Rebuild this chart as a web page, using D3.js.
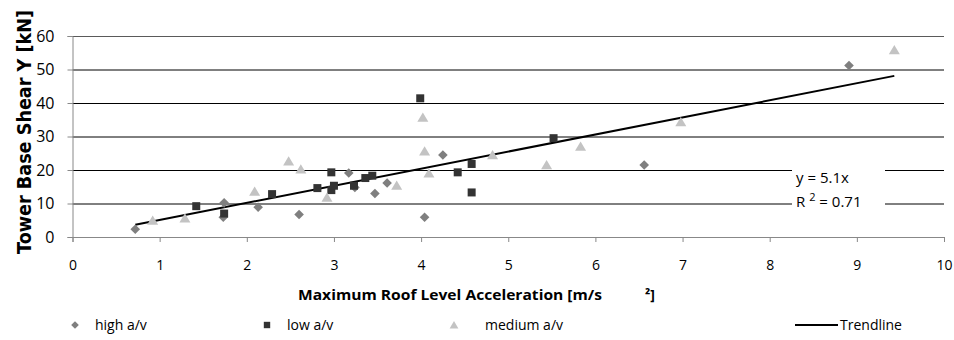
<!DOCTYPE html>
<html>
<head>
<meta charset="utf-8">
<script src="https://cdn.jsdelivr.net/npm/d3@7"></script>
<style>
  body { margin: 0; background: #fff; }
  svg { display: block; }
  text { font-family: "Open Sans", "Liberation Sans", sans-serif; fill: #000; }
</style>
</head>
<body>
<div id="chart"></div>
<script>
// Series.
const highX = [0.72, 1.73, 1.74, 2.13, 2.60, 3.17, 3.24, 3.47, 3.61, 4.04, 4.25, 6.56, 8.91];
const highY = [2.3, 5.9, 10.2, 8.9, 6.7, 19.1, 14.8, 13.0, 16.1, 5.9, 24.5, 21.5, 51.2];

const lowX = [1.42, 1.74, 2.29, 2.81, 2.97, 2.97, 3.00, 3.23, 3.36, 3.44, 3.99, 4.42, 4.58, 4.58, 5.52];
const lowY = [9.2, 7.0, 12.8, 14.6, 19.3, 14.0, 15.3, 15.3, 17.6, 18.3, 41.4, 19.3, 21.8, 13.3, 29.5];

const medX = [0.92, 1.29, 2.09, 2.48, 2.62, 2.92, 3.72, 4.02, 4.04, 4.09, 4.82, 5.44, 5.83, 6.98, 9.43];
const medY = [4.9, 5.6, 13.6, 22.6, 20.2, 11.8, 15.4, 35.7, 25.6, 19.0, 24.5, 21.5, 27.0, 34.3, 55.8];

const trendSlope = 5.1;
const trendR2 = 0.71;

const xTicks = [0, 1, 2, 3, 4, 5, 6, 7, 8, 9, 10];
const yTicks = [0, 10, 20, 30, 40, 50, 60];

const seriesNames = ['high a/v', 'low a/v', 'medium a/v'];

const width = 954;
const height = 340;
const plot = { left: 72.5, right: 944, top: 36, bottom: 237 };

const svg = d3.select('#chart')
  .append('svg')
  .attr('width', width)
  .attr('height', height);

const xScale = d3.scaleLinear().domain([0, 10]).range([plot.left, plot.right]);
const yScale = d3.scaleLinear().domain([0, 60]).range([plot.bottom, plot.top]);

// Gridlines.
svg.append('g')
  .attr('class', 'grid')
  .attr('transform', `translate(${plot.left},0)`)
  .call(d3.axisLeft(yScale).tickValues(yTicks.slice(1)).tickSize(-(plot.right - plot.left)).tickFormat(''))
  .call(g => g.select('.domain').remove())
  .call(g => g.selectAll('line').attr('stroke', (d) => d === 60 ? '#5a5a5a' : '#000'));

// Y axis.
const yAxis = svg.append('g')
  .attr('transform', `translate(${plot.left},0)`)
  .call(d3.axisLeft(yScale).tickValues(yTicks).tickSize(5).tickPadding(13));
yAxis.select('.domain').attr('stroke', '#888');
yAxis.selectAll('line').attr('stroke', '#888');
yAxis.selectAll('text').style('font-size', '16px').style('font-family', '"Open Sans", sans-serif');

// X axis.
const xAxis = svg.append('g')
  .attr('transform', `translate(0,${plot.bottom})`)
  .call(d3.axisBottom(xScale).tickValues(xTicks).tickSize(5).tickPadding(18));
xAxis.select('.domain').attr('stroke', '#888');
xAxis.selectAll('line').attr('stroke', '#888');
xAxis.selectAll('text').style('font-size', '14px').style('font-family', '"Open Sans", sans-serif');

// Marker shapes.
function diamond(s) { return `M0,${-s}L${s},0L0,${s}L${-s},0Z`; }
function square(s) { return `M${-s},${-s}H${s}V${s}H${-s}Z`; }
function triangle(s) { return `M0,${-s}L${s * 1.1},${s * 0.85}L${-s * 1.1},${s * 0.85}Z`; }

const series = [
  { xs: highX, ys: highY, shape: diamond, size: 4.8, color: '#7f7f7f' },
  { xs: lowX, ys: lowY, shape: square, size: 4, color: '#333333' },
  { xs: medX, ys: medY, shape: triangle, size: 5, color: '#c3c3c3' }
];

// Trendline.
const allX = highX.concat(lowX, medX);
const tx = d3.extent(allX);
svg.append('line')
  .attr('x1', xScale(tx[0])).attr('y1', yScale(trendSlope * tx[0]))
  .attr('x2', xScale(tx[1])).attr('y2', yScale(trendSlope * tx[1]))
  .attr('stroke', '#000')
  .attr('stroke-width', 2);

series.forEach((s) => {
  svg.append('g').selectAll('path')
    .data(s.xs.map((x, i) => [x, s.ys[i]]))
    .enter()
    .append('path')
    .attr('d', s.shape(s.size))
    .attr('transform', (d) => `translate(${xScale(d[0])},${yScale(d[1])})`)
    .attr('fill', s.color);
});

// Equation label.
svg.append('rect')
  .attr('x', 792).attr('y', 166)
  .attr('width', 93).attr('height', 44)
  .attr('fill', '#fff');
svg.append('text')
  .attr('x', 796).attr('y', 183)
  .style('font-size', '15px')
  .text('y = ' + trendSlope + 'x');
const r2 = svg.append('text')
  .attr('x', 796).attr('y', 207)
  .style('font-size', '15px');
r2.append('tspan').text('R ');
r2.append('tspan').attr('dy', -6).style('font-size', '11px').text('2');
r2.append('tspan').attr('dy', 6).text(' = ' + trendR2);

// Axis titles.
svg.append('text')
  .attr('transform', 'translate(31,132) rotate(-90) scale(1,1.4)')
  .attr('text-anchor', 'middle')
  .attr('textLength', 244)
  .attr('lengthAdjust', 'spacingAndGlyphs')
  .style('font-family', '"DejaVu Sans", sans-serif')
  .style('font-weight', 'bold')
  .style('font-size', '14px')
  .text('Tower Base Shear Y [kN]');

svg.append('text')
  .attr('x', 298).attr('y', 300)
  .attr('textLength', 304)
  .attr('lengthAdjust', 'spacingAndGlyphs')
  .style('font-family', '"Open Sans", sans-serif')
  .style('font-weight', 'bold')
  .style('font-size', '14px')
  .text('Maximum Roof Level Acceleration [m/s');
svg.append('text')
  .attr('x', 645).attr('y', 300)
  .style('font-family', '"Open Sans", sans-serif')
  .style('font-weight', 'bold')
  .style('font-size', '14px')
  .text('²]');

// Legend.
const legendY = 325;
const legendX = [75, 267, 454];
const legendTextX = [95, 287, 485];
series.forEach((s, i) => {
  svg.append('path')
    .attr('d', s.shape(s.size * 0.8))
    .attr('transform', `translate(${legendX[i]},${legendY})`)
    .attr('fill', s.color);
  svg.append('text')
    .attr('x', legendTextX[i]).attr('y', legendY + 5)
    .style('font-size', '14px')
    .text(seriesNames[i]);
});
svg.append('line')
  .attr('x1', 795).attr('x2', 838)
  .attr('y1', legendY).attr('y2', legendY)
  .attr('stroke', '#000').attr('stroke-width', 2);
svg.append('text')
  .attr('x', 840).attr('y', legendY + 5)
  .style('font-size', '14px')
  .text('Trendline');
</script>
</body>
</html>
